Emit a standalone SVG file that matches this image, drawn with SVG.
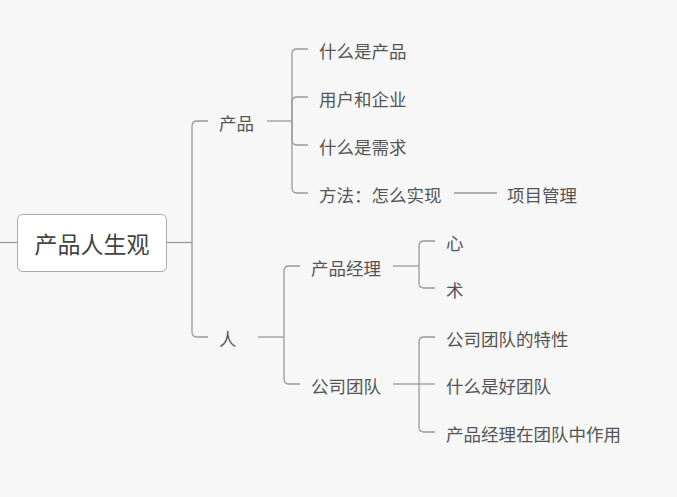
<svg xmlns="http://www.w3.org/2000/svg" width="677" height="497" viewBox="0 0 677 497">
<style>
.c{fill:none;stroke:#9a9a9a;stroke-width:1.3}
.t{font-family:"Noto Sans CJK SC","Liberation Sans",sans-serif;font-size:17.5px;fill:#555;dominant-baseline:central}
.r{font-size:23px;fill:#444;text-anchor:middle}
</style>
<rect width="677" height="497" fill="#f7f7f7"/>
<g id="connectors">
<path class="c" d="M0,242.5 H17"/>
<path class="c" d="M166,242.5 H192"/>
<path class="c" d="M192,242.5 V126 Q192,121 197,121 H208"/>
<path class="c" d="M192,242.5 V332 Q192,337 197,337 H208"/>
<path class="c" d="M267,121 H292"/>
<path class="c" d="M292,121 V54 Q292,49 297,49 H308"/>
<path class="c" d="M292,121 V102 Q292,97 297,97 H308"/>
<path class="c" d="M292,121 V140 Q292,145 297,145 H308"/>
<path class="c" d="M292,121 V188 Q292,193 297,193 H308"/>
<path class="c" d="M454,193 H497"/>
<path class="c" d="M258,337 H284"/>
<path class="c" d="M284,337 V271 Q284,266 289,266 H300"/>
<path class="c" d="M284,337 V379 Q284,384 289,384 H300"/>
<path class="c" d="M393,266 H419"/>
<path class="c" d="M419,266 V246 Q419,241 424,241 H435"/>
<path class="c" d="M419,266 V283 Q419,288 424,288 H435"/>
<path class="c" d="M393,384 H419"/>
<path class="c" d="M419,384 V342 Q419,337 424,337 H435"/>
<path class="c" d="M419,384 H435"/>
<path class="c" d="M419,384 V427 Q419,432 424,432 H435"/>
</g>
<g id="root">
<rect x="17.5" y="214.5" width="149" height="57" rx="5" fill="#fff" stroke="#aaa" stroke-width="1"/>
<text class="t r" x="92" y="243">产品人生观</text>
</g>
<g id="n-product"><text class="t" x="219" y="122.5">产品</text></g>
<g id="n-what-product"><text class="t" x="319" y="50.5">什么是产品</text></g>
<g id="n-user"><text class="t" x="319" y="98.5">用户和企业</text></g>
<g id="n-demand"><text class="t" x="319" y="146.5">什么是需求</text></g>
<g id="n-method"><text class="t" x="319" y="194.5">方法：怎么实现</text></g>
<g id="n-project"><text class="t" x="507" y="194.5">项目管理</text></g>
<g id="n-person"><text class="t" x="219" y="338.5">人</text></g>
<g id="n-pm"><text class="t" x="311" y="267.5">产品经理</text></g>
<g id="n-heart"><text class="t" x="446" y="242.5">心</text></g>
<g id="n-skill"><text class="t" x="446" y="289.5">术</text></g>
<g id="n-team"><text class="t" x="311" y="385.5">公司团队</text></g>
<g id="n-team1"><text class="t" x="446" y="338.5">公司团队的特性</text></g>
<g id="n-team2"><text class="t" x="446" y="385.5">什么是好团队</text></g>
<g id="n-team3"><text class="t" x="446" y="433.5">产品经理在团队中作用</text></g>
</svg>
